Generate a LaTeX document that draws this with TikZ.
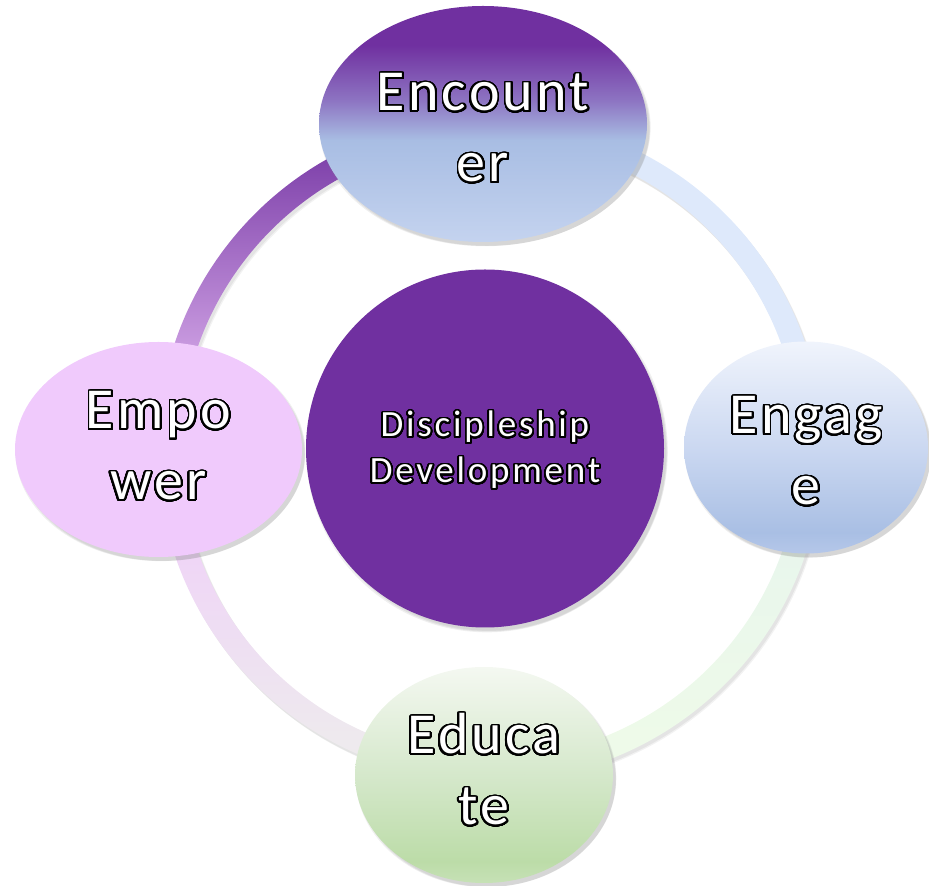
\documentclass[tikz,border=0pt]{standalone}
\usepackage{fontspec}
\setmainfont{Carlito}
\newfontfamily\bigfam[LetterSpace=5.5]{Carlito}
\newfontfamily\midfam[LetterSpace=7.5]{Carlito}
\usepackage{contour}
\contourlength{1.8pt}
\contournumber{48}
\usetikzlibrary{shapes.geometric,shadows}

\definecolor{dpurple}{HTML}{7030A0}
\definecolor{encA}{HTML}{8D74C2}
\definecolor{encB}{HTML}{A8BDE3}
\definecolor{encC}{HTML}{C4D3EF}
\definecolor{engA}{HTML}{F0F4FC}
\definecolor{engB}{HTML}{CBD8F1}
\definecolor{engC}{HTML}{A9BFE4}
\definecolor{engD}{HTML}{B5C7E9}
\definecolor{eduA}{HTML}{F4F8F1}
\definecolor{eduB}{HTML}{D5E8CB}
\definecolor{eduC}{HTML}{BCDCA8}
\definecolor{eduD}{HTML}{C6E1B6}
\definecolor{empfill}{HTML}{F0CAFC}
\definecolor{ringpink}{HTML}{EFC8FB}
\definecolor{ringblue}{HTML}{DEE9FB}
\definecolor{ringgreenA}{HTML}{E6F4EE}
\definecolor{ringgreenB}{HTML}{EEFBE9}
\definecolor{ringgreenC}{HTML}{EFFBE8}
\definecolor{ringlavA}{HTML}{EFCAFB}
\definecolor{ringlavB}{HTML}{EEE0F1}
\definecolor{ringgray}{HTML}{EEEEEC}

\pgfdeclareverticalshading{encshade}{100bp}{color(0bp)=(encC); color(25bp)=(encC); color(46.6bp)=(encB); color(55bp)=(encA); color(66.7bp)=(dpurple); color(100bp)=(dpurple)}
\pgfdeclareverticalshading{engshade}{100bp}{color(0bp)=(engD); color(25bp)=(engD); color(30bp)=(engC); color(50bp)=(engB); color(75bp)=(engA); color(100bp)=(engA)}
\pgfdeclareverticalshading{edushade}{100bp}{color(0bp)=(eduD); color(25bp)=(eduD); color(30bp)=(eduC); color(50bp)=(eduB); color(75bp)=(eduA); color(100bp)=(eduA)}

\newcommand\outl[1]{\contour{black}{#1}}

\begin{document}
\begin{tikzpicture}[x=1pt,y=1pt,
  softshadow/.style={
    drop shadow={shadow xshift=2pt,shadow yshift=-3pt,opacity=0.12,shadow scale=1.01},
    drop shadow={shadow xshift=3pt,shadow yshift=-4pt,opacity=0.14},
    drop shadow={shadow xshift=4pt,shadow yshift=-5pt,opacity=0.10,shadow scale=0.99}},
  ringshadow/.style={
    drop shadow={shadow xshift=2pt,shadow yshift=-3pt,opacity=0.12},
    drop shadow={shadow xshift=3pt,shadow yshift=-4pt,opacity=0.10}},
  bubble/.style={ellipse,inner sep=0pt,align=center,text=white,
    font={\bigfam\fontsize{58}{71}\selectfont},softshadow},
  txtpos/.style={text height=#1,text depth=0pt}]
\useasboundingbox (0,0) rectangle (929,886);
\coordinate (rc) at (490,437);

% ring segments
\shade[ringshadow,top color=dpurple,middle color=ringpink,bottom color=ringpink]
  ([shift={(90:332.5)}]rc) arc[start angle=90,end angle=180,radius=332.5]
  -- ([shift={(180:309.5)}]rc) arc[start angle=180,end angle=90,radius=309.5] -- cycle;
\fill[ringshadow,ringblue]
  ([shift={(0:332.5)}]rc) arc[start angle=0,end angle=90,radius=332.5]
  -- ([shift={(90:309.5)}]rc) arc[start angle=90,end angle=0,radius=309.5] -- cycle;
\shade[ringshadow,top color=ringgreenA,middle color=ringgreenB,bottom color=ringgreenC]
  ([shift={(270:332.5)}]rc) arc[start angle=270,end angle=360,radius=332.5]
  -- ([shift={(0:309.5)}]rc) arc[start angle=360,end angle=270,radius=309.5] -- cycle;
\shade[ringshadow,top color=ringlavA,middle color=ringlavB,bottom color=ringgray]
  ([shift={(180:332.5)}]rc) arc[start angle=180,end angle=270,radius=332.5]
  -- ([shift={(270:309.5)}]rc) arc[start angle=270,end angle=180,radius=309.5] -- cycle;

% centre
\node[circle,fill=dpurple,minimum size=358pt,inner sep=0pt,align=center,text=white,
  font={\midfam\fontsize{37}{46}\selectfont},softshadow,txtpos=69pt]
  (core) at (485,437.5) {\outl{Discipleship}\\\outl{Development}};

% satellites
\node[bubble,shade,shading=encshade,minimum width=328pt,minimum height=236pt,txtpos=116pt]
  (enc) at (483,762) {\outl{Encount}\\\outl{er}};
\node[bubble,shade,shading=engshade,minimum width=244pt,minimum height=212pt,txtpos=115pt]
  (eng) at (806,438.5) {\outl{Engag}\\\outl{e}};
\node[bubble,shade,shading=edushade,minimum width=258pt,minimum height=216pt,txtpos=100pt]
  (edu) at (484,111) {\outl{Educa}\\\outl{te}};
\node[bubble,fill=empfill,minimum width=287pt,minimum height=215pt,txtpos=101pt]
  (emp) at (158.5,436.5) {\outl{Empo}\\\outl{wer}};
\end{tikzpicture}
\end{document}
